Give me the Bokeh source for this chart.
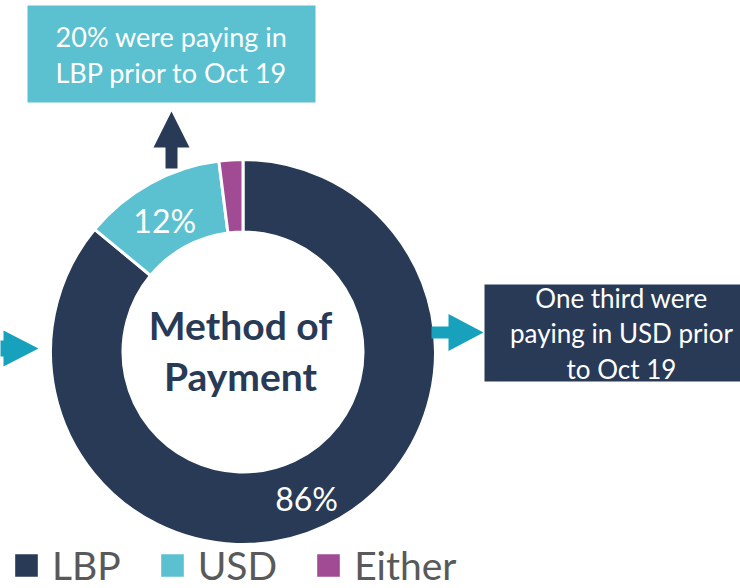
from bokeh.plotting import figure
from bokeh.models import Range1d, Legend, LegendItem, ColumnDataSource
from bokeh.core.properties import value
from bokeh.embed import file_html
from bokeh.resources import INLINE
import math

# ---- data ----
categories = ["LBP", "USD", "Either"]
shares = [86, 12, 2]
pct_labels = ["86%", "12%", ""]
colors = ["#283A56", "#5BC0CF", "#A04B94"]

title_lines = ["Method of", "Payment"]
note_top = ["20% were paying in", "LBP prior to Oct 19"]
note_right = ["One third were", "paying in USD prior", "to Oct 19"]

NAVY = "#283A56"
CYAN = "#5BC0CF"
ARROW_CYAN = "#17A1BD"
FONT = "Lato"

W, H = 740, 588
# data coordinates = reference pixels, y flipped
def Y(ry):
    return H - ry

# baseline correction for text rendering (fraction of font size)
def B(ry, fs):
    return Y(ry) + 0.36 * fs

p = figure(width=W, height=H, x_range=Range1d(0, W), y_range=Range1d(0, H),
           output_backend="svg", toolbar_location=None, min_border=0)
p.axis.visible = False
p.grid.visible = False
p.outline_line_color = None
p.background_fill_color = "white"

# ---- donut ----
cx, cy = 242.5, Y(351.5)
r_out, r_in = 192.5, 120
total = sum(shares)
starts, ends, lx, ly = [], [], [], []
cum = 0
for s in shares:
    c0 = cum / total
    c1 = (cum + s) / total
    cum += s
    starts.append(math.pi / 2 - 2 * math.pi * c1)
    ends.append(math.pi / 2 - 2 * math.pi * c0)
    mid = math.pi / 2 - 2 * math.pi * (c0 + c1) / 2
    rm = (r_out + r_in) / 2
    lx.append(cx + rm * math.cos(mid) - 3)
    ly.append(cy + rm * math.sin(mid) - 5)

src = ColumnDataSource(dict(start=starts, end=ends, color=colors, cat=categories,
                            lx=lx, ly=ly, lab=pct_labels))
wedges = p.annular_wedge(x=cx, y=cy, inner_radius=r_in, outer_radius=r_out,
                         start_angle="start", end_angle="end", fill_color="color",
                         line_color="white", line_width=3, source=src)
p.text(x="lx", y="ly", text="lab", source=src, text_color="white",
       text_font=value(FONT), text_font_size="32px", text_align="center",
       text_baseline="middle")

# centre title
fs_t = 39
p.text(x=[240, 240], y=[B(339, fs_t), B(390, fs_t)], text=title_lines, text_color=NAVY,
       text_font=value(FONT), text_font_style="bold", text_font_size=f"{fs_t}px",
       text_align="center", text_baseline="alphabetic")

# ---- callout boxes ----
fs_a = 27
p.quad(left=27, right=315, top=Y(5), bottom=Y(102), fill_color=CYAN, line_color=None)
p.text(x=[171, 171], y=[B(46, fs_a), B(82, fs_a)], text=note_top, text_color="white",
       text_font=value(FONT), text_font_size=f"{fs_a}px", text_align="center",
       text_baseline="alphabetic")

fs_b = 26
p.quad(left=484, right=760, top=Y(284), bottom=Y(381), fill_color=NAVY, line_color=None)
p.text(x=[621, 621, 621], y=[B(307, fs_b), B(342, fs_b), B(378, fs_b)], text=note_right,
       text_color="white", text_font=value(FONT), text_font_size=f"{fs_b}px",
       text_align="center", text_baseline="alphabetic")

# ---- arrows ----
def arrow(tip_x, tip_y, direction, head_len, head_w, shaft_len, shaft_w):
    dx, dy = direction
    nx, ny = -dy, dx
    bx, by = tip_x - dx * head_len, tip_y - dy * head_len
    ex, ey = bx - dx * shaft_len, by - dy * shaft_len
    pts = [(tip_x, tip_y),
           (bx + nx * head_w / 2, by + ny * head_w / 2),
           (bx + nx * shaft_w / 2, by + ny * shaft_w / 2),
           (ex + nx * shaft_w / 2, ey + ny * shaft_w / 2),
           (ex - nx * shaft_w / 2, ey - ny * shaft_w / 2),
           (bx - nx * shaft_w / 2, by - ny * shaft_w / 2),
           (bx - nx * head_w / 2, by - ny * head_w / 2)]
    return [q[0] for q in pts], [q[1] for q in pts]

ax1, ay1 = arrow(171, Y(111), (0, 1), 36, 36, 21, 12)
ax2, ay2 = arrow(483, Y(332), (1, 0), 35, 37, 17, 12)
ax3, ay3 = arrow(38, Y(348), (1, 0), 35, 36, 20, 16)
p.patches(xs=[ax1, ax2, ax3], ys=[ay1, ay2, ay3],
          fill_color=[NAVY, ARROW_CYAN, ARROW_CYAN], line_color=None)

# ---- legend ----
items = [LegendItem(label=c, renderers=[wedges], index=i) for i, c in enumerate(categories)]
legend = Legend(items=items, orientation="horizontal", location=(10, 0),
                glyph_width=32, glyph_height=32, label_standoff=10, spacing=35,
                label_text_font=FONT, label_text_font_size="39px",
                label_text_color="#595959", padding=0, margin=0,
                border_line_color=None, background_fill_alpha=0)
p.add_layout(legend, "center")

open("out.html", "w").write(file_html(p, INLINE))
